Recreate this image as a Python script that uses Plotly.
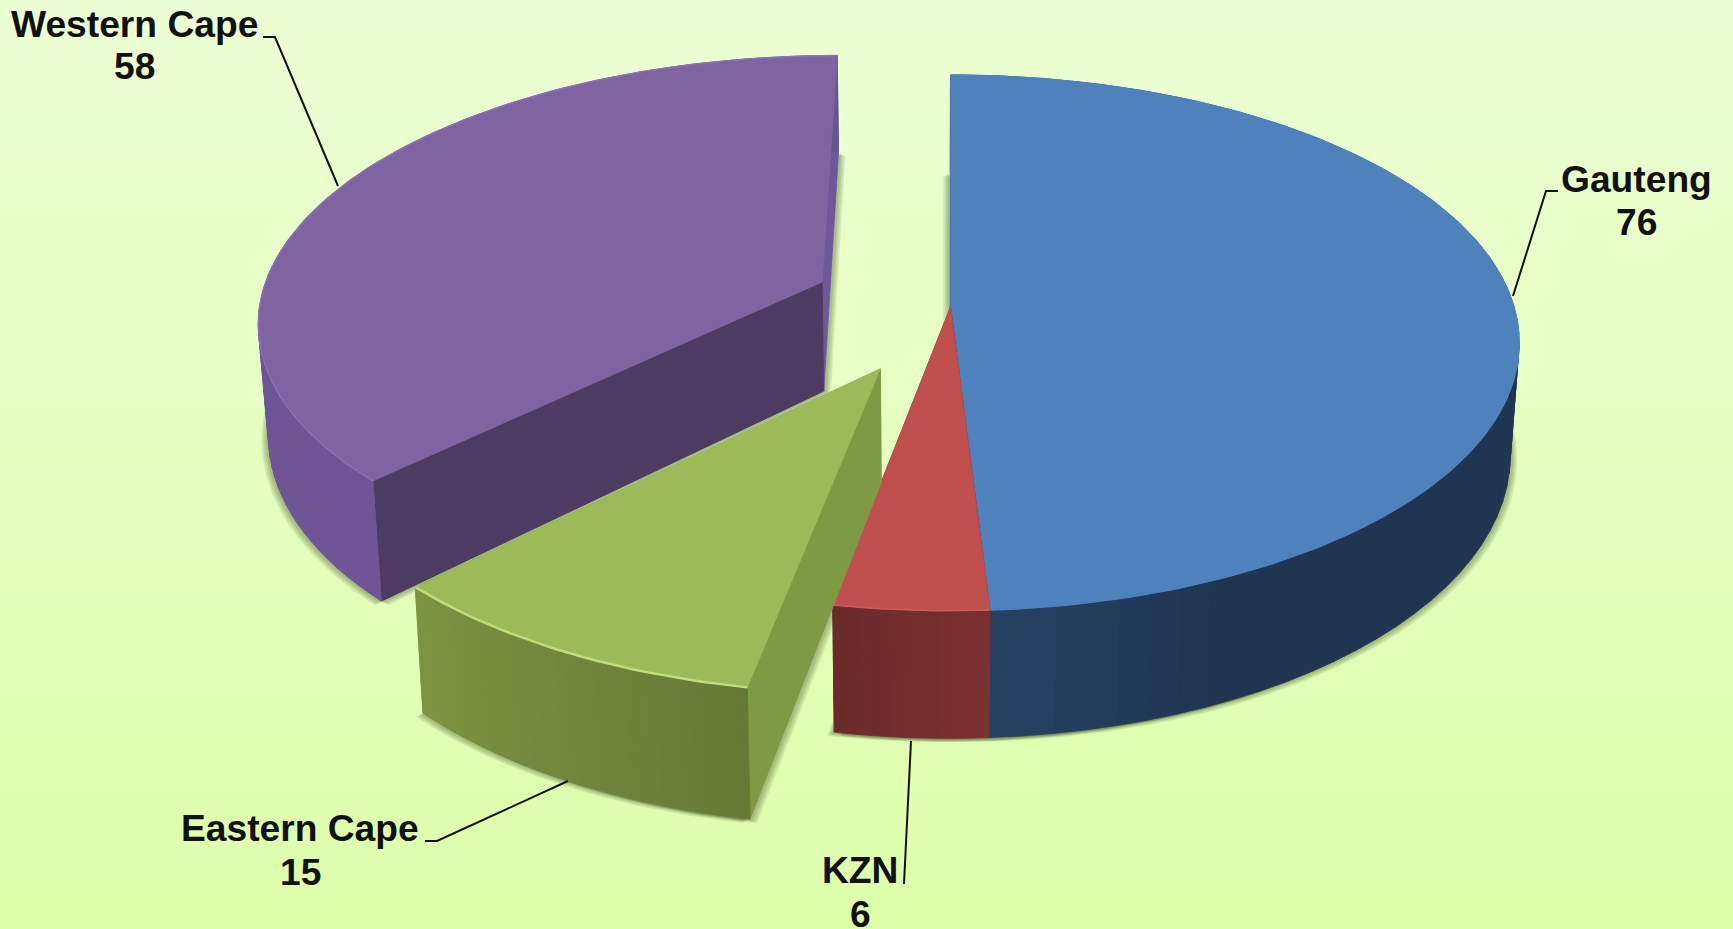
import numpy as np
import plotly.graph_objects as go

# ---------- data ----------
categories = ["Gauteng", "KZN", "Eastern Cape", "Western Cape"]
values = [76, 6, 15, 58]

# ---------- style / layout ----------
W, H = 1733, 929
CX, CY = 950.5, 307.0      # pie centre on screen
RX, RY = 563.5, 263.0      # radii of the projected disc
PERSP = 0.134              # perspective strength
DEPTH = 110.5              # extrusion of the slab
XSHRINK = 0.015
XVAN = 930.0
EXPLODE = {"Gauteng": 0.0, "KZN": 0.0, "Eastern Cape": 0.258, "Western Cape": 0.25}
TOP = {"Gauteng": "#4F81BD", "KZN": "#C0504D", "Eastern Cape": "#9BBB59", "Western Cape": "#8064A2"}
RIM = {"Gauteng": "#4F81BD", "KZN": "#C9605C", "Eastern Cape": "#C3DC7C", "Western Cape": "#8C6FB6"}
WALL = {"Gauteng": ("#264263", "#1F3552"), "KZN": ("#7A3030", "#6C2B2B"),
        "Eastern Cape": ("#7C9441", "#667A36"), "Western Cape": ("#6F5596", "#6B5291")}
SIDE = {"Gauteng": "#1F3552", "KZN": "#6C2B2B", "Eastern Cape": "#7F9A45", "Western Cape": "#70569A"}
INNER = {"Western Cape": "#4D3B62"}
DRAW_ORDER = ["Western Cape", "Gauteng", "KZN", "Eastern Cape"]
BG_TOP, BG_BOTTOM = "#ECFFD4", "#DDFFAA"
FONT = "Liberation Sans"
FS = 37.2
LABELS = {
    "Western Cape": (134, 24, 66),
    "Gauteng": (1636, 179, 222),
    "Eastern Cape": (300, 828, 872),
    "KZN": (860, 870, 914),
}
LEADERS = [
    ([263, 275, 338], [37, 37, 186]),
    ([1558, 1546, 1513], [191, 191, 296]),
    ([425, 437, 568], [841, 841, 781]),
    ([904, 911], [884, 741]),
]


def proj(u, v, z=0.0):
    w = 1 + PERSP * v
    x = CX + RX * u / w
    y = CY - RY * v / w + DEPTH * z / w
    x = XVAN + (x - XVAN) * (1 - XSHRINK * z)
    return x, y


def mix(c1, c2, t):
    a = [int(c1[i:i + 2], 16) for i in (1, 3, 5)]
    b = [int(c2[i:i + 2], 16) for i in (1, 3, 5)]
    return "rgb(%d,%d,%d)" % tuple(round(p + (q - p) * t) for p, q in zip(a, b))


fig = go.Figure()


def poly(x, y, color, line=0.8):
    fig.add_trace(go.Scatter(x=list(x), y=list(y), mode="lines", fill="toself", fillcolor=color,
                             line=dict(color=color, width=line), hoverinfo="skip", showlegend=False))


# background gradient
stops = np.linspace(0, H, 2)
fig.add_trace(go.Heatmap(x=[0, W], y=stops, z=[[0, 0], [1, 1]], zsmooth="best", showscale=False, hoverinfo="skip",
                         zmin=0, zmax=1, colorscale=[[0, BG_TOP], [1, BG_BOTTOM]]))

# slice angles from the data
total = sum(values)
edges = np.cumsum([0] + values) / total * 2 * np.pi
slices = {}
for i, cat in enumerate(categories):
    a0, a1 = edges[i], edges[i + 1]
    mid = (a0 + a1) / 2
    e = EXPLODE[cat]
    slices[cat] = dict(a0=a0, a1=a1, du=e * np.sin(mid), dv=e * np.cos(mid),
                       th=np.linspace(a0, a1, max(8, int((a1 - a0) * 60))))

# soft shadows = bottom faces, nudged sideways
for cat in DRAW_ORDER:
    s = slices[cat]
    us = np.r_[0, np.sin(s["th"])] + s["du"]
    vs = np.r_[0, np.cos(s["th"])] + s["dv"]
    bx, by = proj(us, vs, 1.0)
    for k in (7, 5.5, 4, 2.5):
        for sgn in (-1, 1):
            poly(bx + sgn * k, by + k * 0.55, "rgba(55,70,25,0.10)", line=0)

# slices
for cat in DRAW_ORDER:
    s = slices[cat]
    du, dv, th = s["du"], s["dv"], s["th"]
    ax, ay = proj(du, dv, 0)
    bx, by = proj(du, dv, 1)
    # straight cut walls
    for a, col in ((s["a1"], SIDE[cat]), (s["a0"], INNER.get(cat, SIDE[cat]))):
        px, py = proj(np.sin(a) + du, np.cos(a) + dv, 0)
        qx, qy = proj(np.sin(a) + du, np.cos(a) + dv, 1)
        poly([ax, px, qx, bx, ax], [ay, py, qy, by, ay], col)
    # curved wall in shaded bands
    n = len(th) - 1
    step = max(1, n // 48)
    for j in range(0, n, step):
        t = th[j:j + step + 1]
        tx, ty = proj(np.sin(t) + du, np.cos(t) + dv, 0)
        ux, uy = proj(np.sin(t) + du, np.cos(t) + dv, 1)
        f = j / max(1, n - 1)
        if cat == "Gauteng":
            col = mix(WALL[cat][0], WALL[cat][1], min(1, (1 - f) * 8))
        elif cat == "Eastern Cape":
            col = mix(WALL[cat][0], WALL[cat][1], 1 - f)
        else:
            col = mix(WALL[cat][0], WALL[cat][1], f)
        poly(np.r_[tx, ux[::-1], tx[0]], np.r_[ty, uy[::-1], ty[0]], col)
    # top face
    rx, ry = proj(np.sin(th) + du, np.cos(th) + dv, 0)
    poly(np.r_[ax, rx, ax], np.r_[ay, ry, ay], TOP[cat])
    fig.add_trace(go.Scatter(x=rx, y=ry, mode="lines", hoverinfo="skip", showlegend=False,
                             line=dict(color=RIM[cat], width=2.5 if cat == "Eastern Cape" else 1.5)))

# leader lines
for lx, ly in LEADERS:
    fig.add_trace(go.Scatter(x=lx, y=ly, mode="lines", hoverinfo="skip", showlegend=False,
                             line=dict(color="#111111", width=2)))

# labels
anns = []
for cat, val in zip(categories, values):
    x, y1, y2 = LABELS[cat]
    for txt, y in ((cat, y1), (str(val), y2)):
        anns.append(dict(x=x, y=y, text=f"<b>{txt}</b>", showarrow=False, xanchor="center", yanchor="middle",
                         font=dict(family=FONT, size=FS, color="#111111")))

fig.update_layout(
    width=W, height=H, margin=dict(l=0, r=0, t=0, b=0), paper_bgcolor=BG_TOP, plot_bgcolor=BG_TOP,
    xaxis=dict(range=[0, W], visible=False, fixedrange=True),
    yaxis=dict(range=[H, 0], visible=False, fixedrange=True),
    annotations=anns, showlegend=False,
)
fig.write_html("out.html", post_script="document.body.style.margin='0';document.body.style.overflow='hidden';",
               config=dict(displayModeBar=False))
